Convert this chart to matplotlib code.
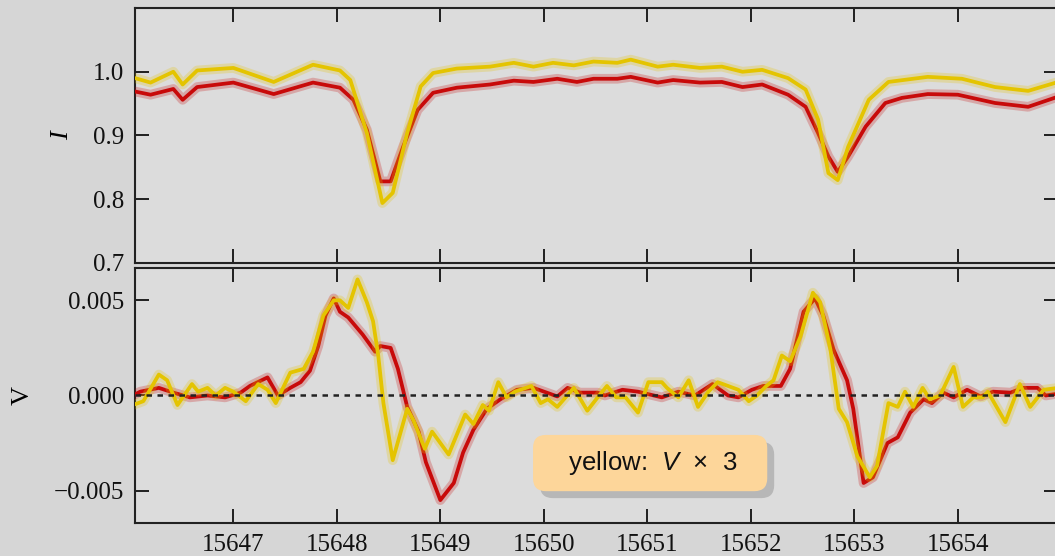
import matplotlib
matplotlib.use("Agg")
import matplotlib.pyplot as plt
import matplotlib.patheffects as pe

# Stokes I (top panel)
wl_i_red = [15646.05, 15646.20, 15646.42, 15646.51, 15646.65, 15647.00, 15647.39, 15647.77,
            15648.03, 15648.16, 15648.29, 15648.42, 15648.52, 15648.64, 15648.78, 15648.93,
            15649.16, 15649.48, 15649.71, 15649.90, 15650.13, 15650.32, 15650.48, 15650.71,
            15650.84, 15651.10, 15651.25, 15651.51, 15651.72, 15651.92, 15652.11, 15652.36,
            15652.53, 15652.65, 15652.75, 15652.84, 15652.94, 15653.11, 15653.30, 15653.46,
            15653.71, 15654.00, 15654.36, 15654.68, 15654.97]
i_red = [0.969, 0.964, 0.973, 0.956, 0.976, 0.983, 0.965, 0.983,
         0.975, 0.956, 0.909, 0.828, 0.828, 0.882, 0.940, 0.967,
         0.975, 0.980, 0.986, 0.984, 0.989, 0.984, 0.989, 0.989,
         0.992, 0.983, 0.987, 0.983, 0.984, 0.976, 0.980, 0.964,
         0.945, 0.904, 0.867, 0.843, 0.867, 0.914, 0.951, 0.959,
         0.965, 0.964, 0.951, 0.945, 0.961]

wl_i_yel = [15646.05, 15646.20, 15646.42, 15646.51, 15646.65, 15647.00, 15647.39, 15647.77,
            15648.03, 15648.13, 15648.29, 15648.44, 15648.54, 15648.68, 15648.81, 15648.93,
            15649.16, 15649.48, 15649.71, 15649.90, 15650.09, 15650.29, 15650.48, 15650.71,
            15650.84, 15651.10, 15651.25, 15651.51, 15651.72, 15651.92, 15652.11, 15652.36,
            15652.53, 15652.65, 15652.75, 15652.84, 15652.94, 15653.14, 15653.33, 15653.71,
            15654.04, 15654.36, 15654.68, 15654.97]
i_yel = [0.990, 0.983, 1.000, 0.980, 1.002, 1.006, 0.984, 1.011,
         1.002, 0.987, 0.904, 0.794, 0.810, 0.904, 0.977, 0.998,
         1.005, 1.008, 1.014, 1.008, 1.014, 1.010, 1.016, 1.014,
         1.019, 1.008, 1.011, 1.006, 1.008, 1.000, 1.003, 0.990,
         0.972, 0.925, 0.841, 0.830, 0.882, 0.956, 0.984, 0.992,
         0.989, 0.976, 0.970, 0.984]

# Stokes V (bottom panel); yellow already multiplied by 3
wl_v_red = [15646.03, 15646.10, 15646.28, 15646.42, 15646.58, 15646.75, 15646.92, 15647.07,
            15647.16, 15647.33, 15647.43, 15647.55, 15647.65, 15647.74, 15647.82, 15647.89,
            15647.97, 15648.03, 15648.11, 15648.25, 15648.37, 15648.42, 15648.52, 15648.59,
            15648.68, 15648.79, 15648.86, 15649.00, 15649.13, 15649.22, 15649.32, 15649.45,
            15649.58, 15649.74, 15649.90, 15650.13, 15650.23, 15650.35, 15650.52, 15650.59,
            15650.76, 15650.91, 15651.14, 15651.30, 15651.46, 15651.63, 15651.78, 15651.88,
            15652.01, 15652.12, 15652.29, 15652.38, 15652.51, 15652.62, 15652.70, 15652.80,
            15652.93, 15652.99, 15653.09, 15653.18, 15653.32, 15653.42, 15653.54, 15653.67,
            15653.75, 15653.86, 15653.96, 15654.09, 15654.22, 15654.34, 15654.51, 15654.63,
            15654.77, 15654.85, 15654.97]
v_red = [0.0000, 0.0002, 0.0004, 0.00015, -0.0001, 0.0000, -0.0001, 0.00015,
         0.0005, 0.00095, 0.0000, 0.0004, 0.0007, 0.0013, 0.0026, 0.0042,
         0.0051, 0.0044, 0.0041, 0.0032, 0.0023, 0.0026, 0.0025, 0.0014,
         -0.0006, -0.0019, -0.0035, -0.0055, -0.0046, -0.0030, -0.0018, -0.0007,
         -0.0002, 0.0003, 0.0004, -0.00005, 0.0004, 0.00015, 0.00015, 0.0000,
         0.0003, 0.0002, -0.0001, 0.0002, 0.0000, 0.0006, 0.0000, -0.0001,
         0.0003, 0.0005, 0.0005, 0.0014, 0.0044, 0.0051, 0.0042, 0.0024,
         0.0008, -0.0007, -0.0046, -0.0043, -0.0025, -0.0022, -0.0009, -0.0002,
         -0.0004, 0.00015, -0.0001, 0.0003, -0.00005, 0.0002, 0.00015, 0.0004,
         0.0004, 0.0000, 0.0001]

wl_v_yel = [15646.03, 15646.13, 15646.28, 15646.36, 15646.46, 15646.60, 15646.66, 15646.75,
            15646.83, 15646.92, 15647.00, 15647.12, 15647.24, 15647.33, 15647.41, 15647.55,
            15647.68, 15647.77, 15647.87, 15647.97, 15648.03, 15648.11, 15648.20, 15648.29,
            15648.35, 15648.40, 15648.45, 15648.54, 15648.68, 15648.74, 15648.85, 15648.92,
            15649.08, 15649.24, 15649.32, 15649.41, 15649.47, 15649.56, 15649.64, 15649.72,
            15649.88, 15649.97, 15650.04, 15650.13, 15650.29, 15650.42, 15650.52, 15650.61,
            15650.70, 15650.79, 15650.91, 15651.01, 15651.14, 15651.19, 15651.30, 15651.40,
            15651.49, 15651.59, 15651.68, 15651.78, 15651.88, 15651.98, 15652.06, 15652.15,
            15652.22, 15652.30, 15652.38, 15652.48, 15652.60, 15652.67, 15652.77, 15652.85,
            15652.93, 15653.03, 15653.15, 15653.22, 15653.33, 15653.42, 15653.49, 15653.57,
            15653.66, 15653.73, 15653.83, 15653.96, 15654.05, 15654.15, 15654.24, 15654.29,
            15654.46, 15654.60, 15654.70, 15654.83, 15654.97]
v_yel = [-0.0005, -0.0003, 0.0011, 0.0008, -0.0005, 0.0006, 0.0002, 0.0004,
         0.0000, 0.0004, 0.0002, -0.0003, 0.0006, 0.0003, -0.0004, 0.0012,
         0.0014, 0.0023, 0.0042, 0.0050, 0.0050, 0.0046, 0.0061, 0.0049,
         0.0039, 0.0021, -0.0004, -0.0034, -0.0007, -0.0013, -0.0028, -0.0019,
         -0.0031, -0.0010, -0.0015, -0.0005, -0.0008, 0.0007, -0.0001, 0.0002,
         0.0005, -0.0004, -0.0002, -0.0006, 0.0004, -0.0008, -0.0001, 0.0005,
         -0.0001, -0.0001, -0.0009, 0.0007, 0.0007, 0.0004, -0.0001, 0.0008,
         -0.0006, 0.0002, 0.0007, 0.0005, 0.0003, -0.0003, 0.0000, 0.0005,
         0.0008, 0.0021, 0.0018, 0.0031, 0.0054, 0.0049, 0.0024, -0.0007,
         -0.0014, -0.0032, -0.0043, -0.0037, -0.0004, -0.0006, 0.0002, -0.0006,
         0.0004, -0.0002, 0.0000, 0.0015, -0.0006, -0.0001, -0.0001, 0.0002,
         -0.0014, 0.0006, -0.0006, 0.0003, 0.0004]

i_ticks = [0.7, 0.8, 0.9, 1.0]
v_ticks = [-0.005, 0.0, 0.005]
wl_ticks = [15647, 15648, 15649, 15650, 15651, 15652, 15653, 15654]

red = "#c80a0a"
yel = "#e4c400"

plt.rcParams["font.family"] = ["Liberation Serif", "DejaVu Serif"]
plt.rcParams["mathtext.fontset"] = "custom"
plt.rcParams["mathtext.rm"] = "Liberation Sans"
plt.rcParams["mathtext.it"] = "Liberation Sans:italic"

fig = plt.figure(figsize=(10.55, 5.56), dpi=100, facecolor="#d6d6d6")
ax1 = fig.add_axes([0.128, 0.527, 0.875, 0.4586])
ax2 = fig.add_axes([0.128, 0.0594, 0.875, 0.4586])


def glow(c):
    return [pe.Stroke(linewidth=7, foreground=c, alpha=0.25), pe.Normal()]


ax1.plot(wl_i_red, i_red, color=red, lw=2.7, path_effects=glow(red), zorder=3)
ax1.plot(wl_i_yel, i_yel, color=yel, lw=2.7, path_effects=glow(yel), zorder=4)

ax2.axhline(0, color="#222222", lw=1.8, ls=(0, (2.2, 2.2)), zorder=5)
ax2.plot(wl_v_red, v_red, color=red, lw=2.7, path_effects=glow(red), zorder=3)
ax2.plot(wl_v_yel, v_yel, color=yel, lw=2.7, path_effects=glow(yel), zorder=4)

for ax in (ax1, ax2):
    ax.set_facecolor("#dcdcdc")
    ax.set_xlim(15646.05, 15654.97)
    ax.set_xticks(wl_ticks)
    ax.tick_params(direction="in", length=10, width=1.3, top=True, right=True,
                   labelsize=18, pad=8, colors="#111111")
    for s in ax.spines.values():
        s.set_linewidth(1.5)
        s.set_color("#222222")

ax1.set_ylim(0.7, 1.1)
ax1.set_yticks(i_ticks)
ax1.set_yticklabels(["0.7", "0.8", "0.9", "1.0"])
ax1.tick_params(labelbottom=False)
ax1.set_ylabel("I", fontsize=19, fontstyle="italic", labelpad=14)

ax2.set_ylim(-0.0067, 0.0067)
ax2.set_yticks(v_ticks)
ax2.set_yticklabels(["\u22120.005", "0.000", "0.005"])
ax2.set_ylabel("V", fontsize=19, labelpad=14)

t = ax2.text(0.558, 0.235, r"   yellow:  $V$  $\times$  3   ", transform=ax2.transAxes,
             ha="center", va="center", fontsize=18.5, family="Liberation Sans",
             color="#111111", zorder=10,
             bbox=dict(boxstyle="round,pad=0.55,rounding_size=0.5",
                       facecolor="#fdd69a", edgecolor="none"))
t.get_bbox_patch().set_path_effects([
    pe.SimplePatchShadow(offset=(5, -5), shadow_rgbFace="#9a9a9a", alpha=0.55),
    pe.Normal()])

fig.savefig("out.png", dpi=100, facecolor=fig.get_facecolor())
